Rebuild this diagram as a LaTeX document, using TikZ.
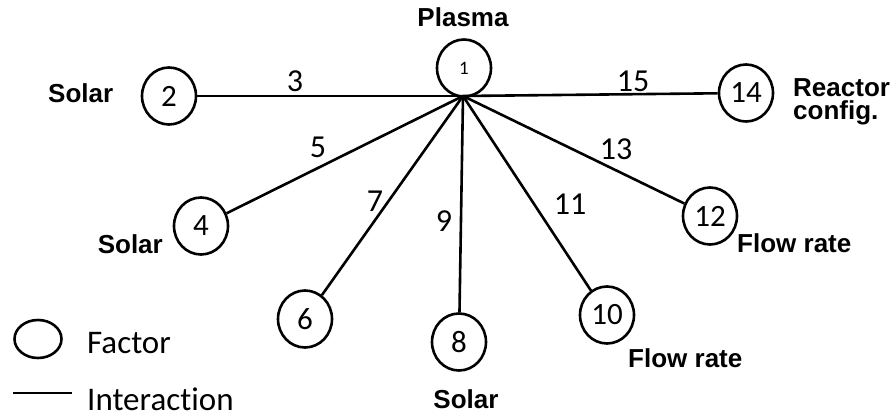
\documentclass[tikz,border=0pt]{standalone}
\usepackage{fontspec}
\setmainfont{Carlito}[Ligatures=NoCommon]
\newfontfamily\labfont{Liberation Sans}
\usetikzlibrary{shapes.geometric}
\tikzset{
  factor/.style={draw, ellipse, line width=2.6pt, minimum width=54pt, minimum height=57pt, inner sep=0pt, font=\fontsize{31}{31}\selectfont},
  link/.style={line width=2.6pt},
  namelab/.style={inner sep=0pt, font=\labfont\bfseries\fontsize{26}{23}\selectfont},
  edgelab/.style={inner sep=0pt, anchor=base, font=\fontsize{32}{32}\selectfont},
  legendtxt/.style={inner sep=0pt, anchor=base west, font=\fontsize{33}{33}\selectfont}
}
\begin{document}
\begin{tikzpicture}[x=1pt,y=-1pt]
\useasboundingbox (0,0) rectangle (896,419);
% factors
\node[factor, font=\fontsize{19}{19}\selectfont] (n1) at (464,68) {1};
\node[factor] (n2) at (169,96) {2};
\node[factor] (n14) at (746,93) {14};
\node[factor] (n4) at (201,226) {4};
\node[factor] (n6) at (305,319) {6};
\node[factor] (n8) at (459,342) {8};
\node[factor] (n10) at (607,315) {10};
\node[factor] (n12) at (710,216) {12};
\coordinate (hub) at (463,96);
% interactions
\draw[link] (hub) -- (n2);
\draw[link] (hub) -- (n14);
\draw[link] (hub) -- (n4);
\draw[link] (hub) -- (n6);
\draw[link] (hub) -- (n8);
\draw[link] (hub) -- (n10);
\draw[link] (hub) -- (n12);
% interaction labels
\node[edgelab] (e3) at (295,92) {3};
\node[edgelab] (e15) at (633,92) {15};
\node[edgelab] (e5) at (318,158) {5};
\node[edgelab] (e13) at (616,160) {13};
\node[edgelab] (e7) at (375,212) {7};
\node[edgelab] (e9) at (444,232) {9};
\node[edgelab] (e11) at (570,215) {11};
% factor names
\node[namelab, anchor=base] (lplasma) at (463,27) {Plasma};
\node[namelab, anchor=base west] (lsolar2) at (48,103) {Solar};
\node[namelab, anchor=north west, align=left] (lreactor) at (793,78) {Reactor\\config.};
\node[namelab, anchor=base east] (lsolar4) at (163,254) {Solar};
\node[namelab, anchor=base] (lsolar8) at (466,408) {Solar};
\node[namelab, anchor=base west] (lflow10) at (628,367) {Flow rate};
\node[namelab, anchor=base west] (lflow12) at (737,253) {Flow rate};
% legend
\node[draw, ellipse, line width=2.6pt, minimum width=47pt, minimum height=38pt, inner sep=0pt] (legc) at (38,339) {};
\node[legendtxt] (legf) at (87,353) {Factor};
\coordinate (lega) at (13,393);
\coordinate (legb) at (72,393);
\draw[link] (lega) -- (legb);
\node[legendtxt] (legi) at (87,410) {Interaction};
\end{tikzpicture}
\end{document}
